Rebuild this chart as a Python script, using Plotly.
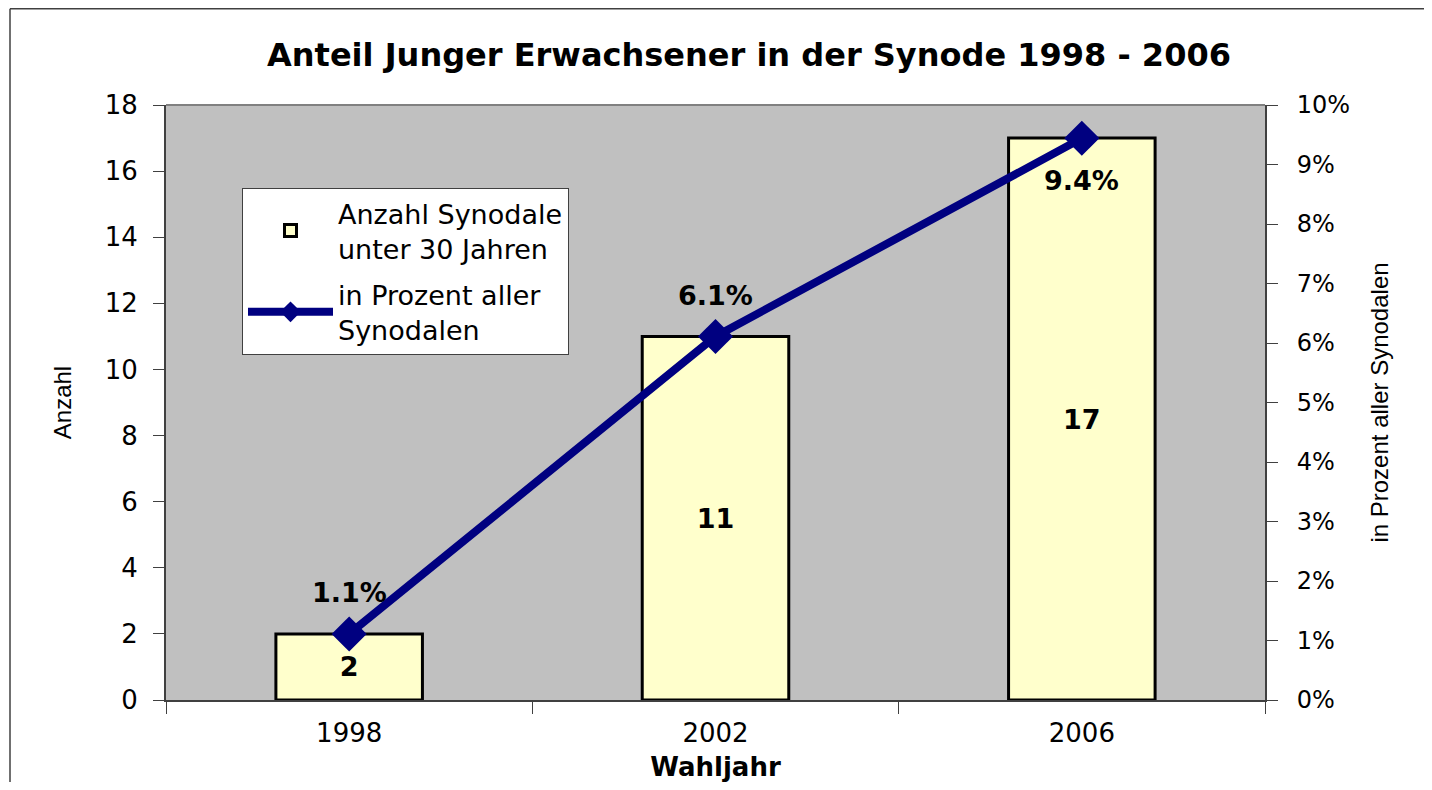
import plotly.graph_objects as go

years = ["1998", "2002", "2006"]
counts = [2, 11, 17]
percent = [0.0111, 0.0611, 0.0944]
percent_labels = ["1.1%", "6.1%", "9.4%"]
label_shift = [41, 41, -42]

title = "Anteil Junger Erwachsener in der Synode 1998 - 2006"
bar_name = "Anzahl Synodale<br>unter 30 Jahren"
line_name = "in Prozent aller<br>Synodalen"

WIDE = "DejaVu Sans, Verdana, sans-serif"
SANS = "Liberation Sans, Arial, sans-serif"

# the page has an 8px body margin on every side, so keep the figure inside the window
W, H = 1416, 774
ML, MT, PW, PH = 158, 97, 1099, 595

fig = go.Figure()
fig.add_trace(go.Bar(
    x=years, y=counts, name=bar_name, legendgroup="a",
    marker=dict(color="#FFFFCC", line=dict(color="black", width=3)),
    text=[f"<b>{c}</b>" for c in counts], textposition="inside", insidetextanchor="middle",
    textfont=dict(family=WIDE, size=27, color="black"),
    textangle=0,
))
fig.add_trace(go.Scatter(
    x=years, y=percent, name=line_name, mode="lines+markers", legendgroup="b",
    line=dict(color="#000080", width=8),
    marker=dict(symbol="diamond", size=27, color="#000080"),
    yaxis="y2",
))

for i, (p, lab, sh) in enumerate(zip(percent, percent_labels, label_shift)):
    fig.add_annotation(x=i, y=p, xref="x", yref="y2", text=f"<b>{lab}</b>",
                       showarrow=False, yshift=sh,
                       font=dict(family=WIDE, size=27, color="black"))

fig.update_layout(
    width=W, height=H,
    margin=dict(l=ML, r=W - ML - PW, t=MT, b=H - MT - PH, autoexpand=False),
    paper_bgcolor="white", plot_bgcolor="#C0C0C0",
    title=dict(text=f"<b>{title}</b>", x=741 / W, xanchor="center", y=1 - 47 / H, yanchor="middle",
               font=dict(family=WIDE, size=32, color="black")),
    font=dict(family=WIDE, size=24, color="black"),
    showlegend=True,
    legend=dict(x=(242 - 8 - ML) / PW, y=(PH + MT - (188 - 8)) / PH, xanchor="left", yanchor="top",
                bgcolor="white", bordercolor="#404040", borderwidth=1,
                font=dict(family=WIDE, size=27, color="black"),
                tracegroupgap=8, itemwidth=85),
    bargap=0.6,
    xaxis=dict(type="category", categoryorder="array", categoryarray=years, range=[-0.5, 2.5],
               showgrid=False, showline=True, linecolor="#404040", linewidth=2, automargin=False,
               ticks="outside", ticklen=12, tickcolor="#404040", tickson="boundaries",
               ticklabelstandoff=9,
               tickfont=dict(family=WIDE, size=26),
               title=dict(text="<b>Wahljahr</b>", font=dict(family=WIDE, size=26), standoff=21)),
    yaxis=dict(range=[0, 18], dtick=2, showgrid=False, showline=True, linecolor="#404040", linewidth=2,
               ticks="outside", ticklen=11, tickcolor="#404040", zeroline=False, automargin=False,
               ticklabelstandoff=10,
               tickfont=dict(family=WIDE, size=26),
               title=dict(text="Anzahl", font=dict(family=SANS, size=24), standoff=26)),
    yaxis2=dict(range=[0, 0.1], dtick=0.01, tickformat=".0%", overlaying="y", side="right",
                showgrid=False, showline=True, linecolor="#404040", linewidth=2, automargin=False,
                ticks="outside", ticklen=11, tickcolor="#404040", zeroline=False,
                ticklabelstandoff=14,
                tickfont=dict(family=WIDE, size=24),
                title=dict(text="in Prozent aller Synodalen", font=dict(family=SANS, size=24), standoff=22)),
)

# top border of plot area
fig.add_shape(type="line", xref="paper", yref="paper", x0=0, x1=1, y0=1, y1=1,
              line=dict(color="#808080", width=2))
# outer chart frame: only its left and top edges are inside the picture
frame_left = (2 - ML) / PW
frame_top = (PH + MT - 0.8) / PH
fig.add_shape(type="line", xref="paper", yref="paper",
              x0=frame_left, x1=frame_left, y0=-(H - MT - PH) / PH, y1=frame_top,
              line=dict(color="#404040", width=1.5), layer="below")
fig.add_shape(type="line", xref="paper", yref="paper",
              x0=frame_left, x1=(W - ML) / PW, y0=frame_top, y1=frame_top,
              line=dict(color="#404040", width=1.5), layer="below")

fig.write_html("out.html")
